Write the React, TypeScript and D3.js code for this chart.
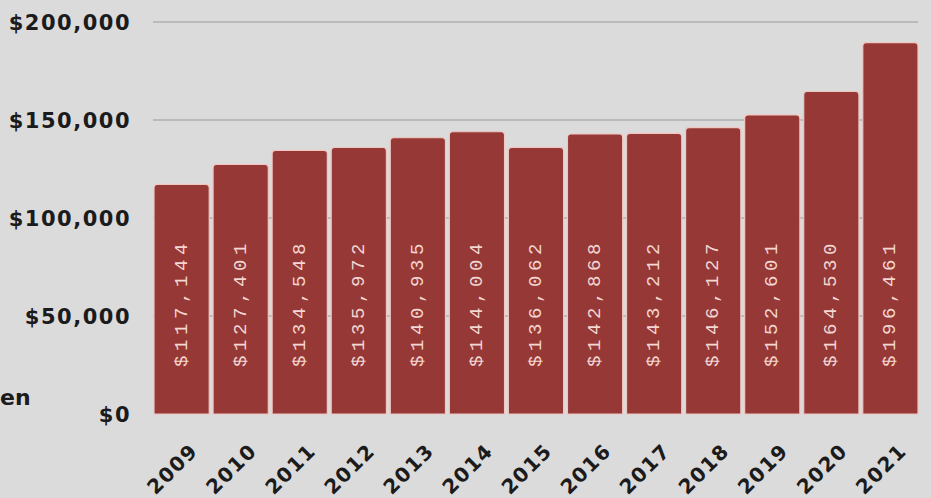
import React from "react";
import * as d3 from "d3";

const years = ["2009","2010","2011","2012","2013","2014","2015","2016","2017","2018","2019","2020","2021"];
const salaries = [117144,127401,134548,135972,140935,144004,136062,142868,143212,146127,152601,164530,196461];
// bar heights as drawn in the picture (the 2021 bar is drawn shorter than its label)
const barValues = [117144,127401,134548,135972,140935,144004,136062,142868,143212,146127,152601,164530,189500];
const yTicks = [0, 50000, 100000, 150000, 200000];
const gridTicks = [50000, 100000, 150000, 200000];

const W = 931, H = 498;
const BG = "#dbdbdb";
const BAR = "#963936";

export default function App() {
  const x = d3.scaleBand<string>().domain(years).range([154, 918]).paddingInner(0.065).paddingOuter(0);
  const y = d3.scaleLinear().domain([0, 200000]).range([414, 22]);
  const fmt = d3.format("$,");
  const bw = x.bandwidth();
  const r = 3.5;
  const barPath = (x0: number, y0: number, w: number, y1: number) => {
    const p = d3.path();
    p.moveTo(x0, y1);
    p.lineTo(x0, y0 + r);
    p.quadraticCurveTo(x0, y0, x0 + r, y0);
    p.lineTo(x0 + w - r, y0);
    p.quadraticCurveTo(x0 + w, y0, x0 + w, y0 + r);
    p.lineTo(x0 + w, y1);
    p.closePath();
    return p.toString();
  };
  return (
    <svg width={W} height={H} style={{ position: "absolute", left: 0, top: 0, background: BG }}>
      <rect x={0} y={0} width={W} height={H} fill={BG} />
      {gridTicks.map((t) => (
        <line key={t} x1={153} x2={918} y1={y(t)} y2={y(t)} stroke="#bababa" strokeWidth={2} />
      ))}
      {yTicks.map((t) => (
        <text key={t} x={131} y={y(t) + 2} textAnchor="end" dominantBaseline="middle"
          fontFamily="'DejaVu Sans', sans-serif" fontWeight="bold" fontSize={21} letterSpacing={1.5} fill="#1b1b1b">
          {fmt(t)}
        </text>
      ))}
      <text x={0} y={405} fontFamily="'DejaVu Sans', sans-serif" fontWeight="bold" fontSize={22} fill="#1b1b1b">en</text>
      {years.map((yr, i) => {
        const x0 = x(yr)!;
        const cx = x0 + bw / 2;
        return (
          <g key={yr}>
            <path d={barPath(x0, y(barValues[i]), bw, y(0))} fill={BAR} stroke="#f0c6c1" strokeWidth={1.2} />
            <text transform={`translate(${cx},367) rotate(-90)`} dominantBaseline="central"
              fontFamily="'Liberation Mono', monospace" fontSize={19} letterSpacing={4.6} fill="#f3d6d2">
              {fmt(salaries[i])}
            </text>
            <text transform={`translate(${cx + 17.5},452) rotate(-45)`} textAnchor="end"
              fontFamily="'DejaVu Sans', sans-serif" fontWeight="bold" fontSize={20} letterSpacing={1.5} fill="#1b1b1b">
              {yr}
            </text>
          </g>
        );
      })}
    </svg>
  );
}
